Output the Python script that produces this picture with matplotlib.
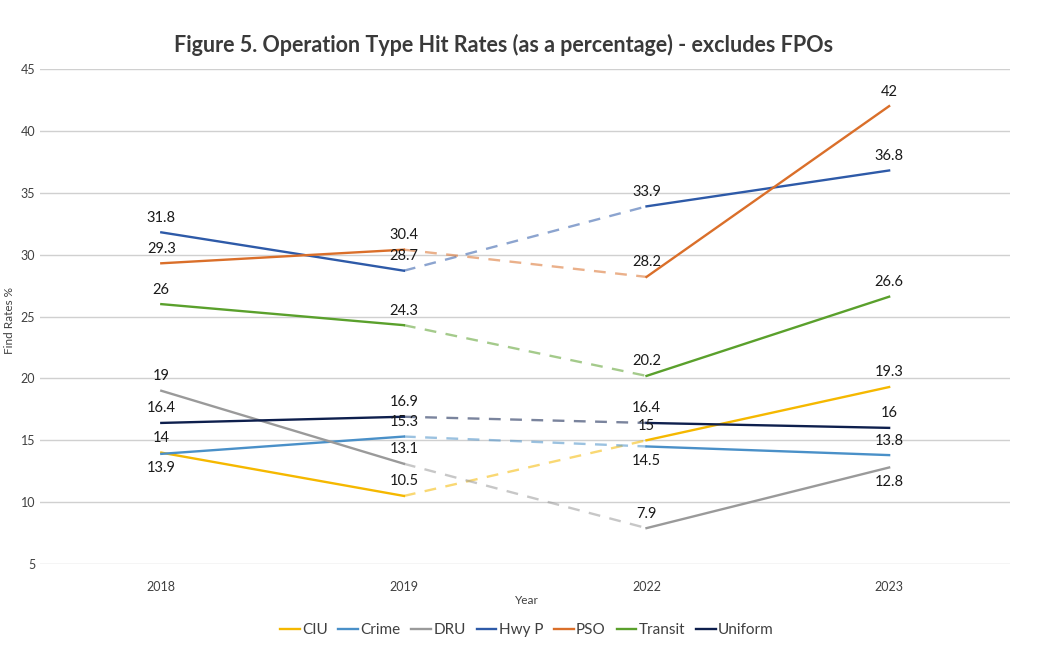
import matplotlib.pyplot as plt

plt.rcParams['font.family'] = ['Lato', 'DejaVu Sans']

years = ['2018', '2019', '2022', '2023']
series = ['CIU', 'Crime', 'DRU', 'Hwy P', 'PSO', 'Transit', 'Uniform']
ciu = [14, 10.5, 15, 19.3]
crime = [13.9, 15.3, 14.5, 13.8]
dru = [19, 13.1, 7.9, 12.8]
hwy_p = [31.8, 28.7, 33.9, 36.8]
pso = [29.3, 30.4, 28.2, 42]
transit = [26, 24.3, 20.2, 26.6]
uniform = [16.4, 16.9, 16.4, 16]
values = [ciu, crime, dru, hwy_p, pso, transit, uniform]

colors = ['#F5B800', '#4A90C8', '#9A9A9A', '#2E5AA8', '#DA6F2A', '#5AA02C', '#0E1F4D']

# labels placed below the point instead of above
below = {('Crime', 0), ('Crime', 2), ('DRU', 3)}

fig = plt.figure(figsize=(10.39, 6.54), dpi=100)
ax = fig.add_axes([0.0385, 0.1376, 0.934, 0.7569])

x = list(range(len(years)))
for name, vals, c in zip(series, values, colors):
    # solid where data is consecutive, dashed faded across the 2019-2022 gap
    ax.plot(x[:2], vals[:2], color=c, lw=1.7, label=name)
    ax.plot(x[1:3], vals[1:3], color=c, lw=1.7, ls=(0, (5, 4)), alpha=0.55)
    ax.plot(x[2:], vals[2:], color=c, lw=1.7)
    for i, v in enumerate(vals):
        dy = -10.5 if (name, i) in below else 10.5
        ax.annotate(f'{v:g}', (i, v), xytext=(0, dy), textcoords='offset points',
                    ha='center', va='center', fontsize=10.5, color='#1a1a1a')

ax.set_xlim(-0.5, 3.5)
ax.set_ylim(5, 45)
ax.set_yticks(range(5, 46, 5))
ax.set_xticks(x)
ax.set_xticklabels(years)
ax.tick_params(length=0, labelsize=9, colors='#404040')
ax.tick_params(axis='x', pad=12)
ax.grid(axis='y', color='#D0D0D0', lw=1)
ax.set_axisbelow(True)
for s in ax.spines.values():
    s.set_visible(False)

fig.text(0.485, 0.932, 'Figure 5. Operation Type Hit Rates (as a percentage) - excludes FPOs',
         ha='center', va='center', fontsize=15.5, fontweight='bold', color='#3a3a3a')
fig.text(0.507, 0.082, 'Year', ha='center', va='center', fontsize=8.5, color='#404040')
fig.text(0.009, 0.51, 'Find Rates %', ha='center', va='center', rotation=90,
         fontsize=8.5, color='#404040')

fig.legend(loc='center', bbox_to_anchor=(0.507, 0.036), ncol=7, frameon=False,
           fontsize=11, handlelength=1.3, handletextpad=0.15, columnspacing=0.7,
           labelcolor='#404040')

fig.savefig('out.png')
